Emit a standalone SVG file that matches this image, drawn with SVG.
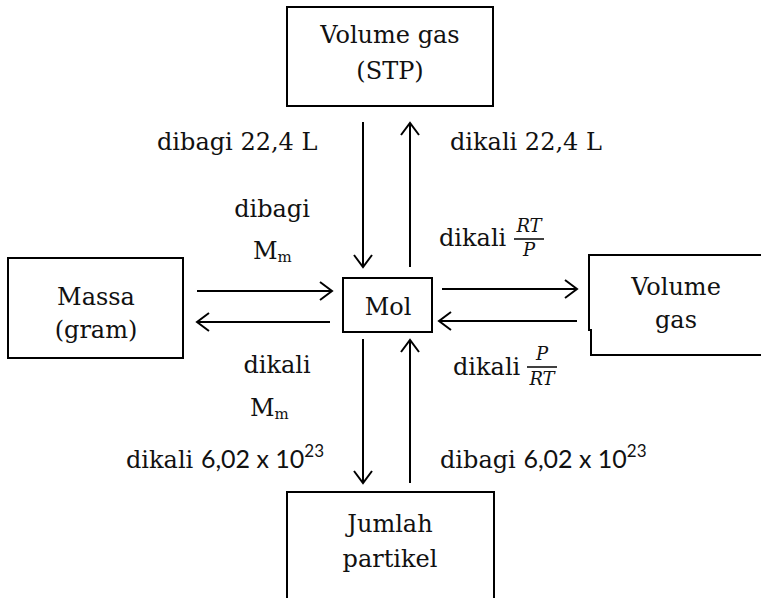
<svg xmlns="http://www.w3.org/2000/svg" width="761" height="598" viewBox="0 0 761 598">
<defs>
<style>
.box{fill:none;stroke:#000;stroke-width:2}
.t{font-family:"DejaVu Serif","Liberation Serif",serif;font-size:24px;fill:#111}
.c{text-anchor:middle}
.s{font-family:Lato,"Liberation Sans",sans-serif;font-size:25px}
.sup{font-family:Lato,"Liberation Sans",sans-serif;font-size:17px}
.sub{font-size:15px}
.f{font-family:"DejaVu Serif","Liberation Serif",serif;font-style:italic;font-size:18px;fill:#111;text-anchor:middle}
.ar{fill:none;stroke:#000;stroke-width:2;marker-end:url(#ah)}
</style>
<marker id="ah" markerUnits="userSpaceOnUse" markerWidth="16" markerHeight="22" refX="13" refY="10" orient="auto" overflow="visible">
<path d="M1,1 L13,10 L1,19" fill="none" stroke="#000" stroke-width="2"/>
</marker>
</defs>
<rect width="761" height="598" fill="#fff"/>

<g id="volume-stp">
<rect class="box" x="287" y="7" width="206" height="99"/>
<text class="t c" x="390" y="43">Volume gas</text>
<text class="t c" x="390" y="79">(STP)</text>
</g>

<g id="massa">
<rect class="box" x="8" y="258" width="175" height="100"/>
<text class="t c" x="96" y="305">Massa</text>
<text class="t c" x="96" y="338">(gram)</text>
</g>

<g id="mol">
<rect class="box" x="343" y="278" width="89" height="54"/>
<text class="t c" x="388" y="315">Mol</text>
</g>

<g id="volume-gas">
<path class="box" d="M763,255 H589 V331 M591,329 V355 H763"/>
<text class="t c" x="676" y="295">Volume</text>
<text class="t c" x="676" y="328">gas</text>
</g>

<g id="jumlah-partikel">
<rect class="box" x="287" y="492" width="207" height="112"/>
<text class="t c" x="390" y="532">Jumlah</text>
<text class="t c" x="390" y="567">partikel</text>
</g>

<g id="connectors">
<line class="ar" x1="363" y1="122" x2="363" y2="267"/>
<line class="ar" x1="410" y1="267" x2="410" y2="123"/>
<line class="ar" x1="363" y1="339" x2="363" y2="483"/>
<line class="ar" x1="410" y1="483" x2="410" y2="340"/>
<line class="ar" x1="197" y1="291" x2="332" y2="291"/>
<line class="ar" x1="330" y1="322" x2="197" y2="322"/>
<line class="ar" x1="442" y1="289" x2="577" y2="289"/>
<line class="ar" x1="577" y1="321" x2="439" y2="321"/>
</g>

<g id="labels">
<text class="t" x="157" y="150">dibagi 22,4 L</text>
<text class="t" x="450" y="150">dikali 22,4 L</text>
<text class="t c" x="272" y="217">dibagi</text>
<text class="t" x="253" y="259">M<tspan class="sub" dy="3">m</tspan></text>
<text class="t" x="439" y="246">dikali</text>
<text class="f" x="529" y="232">RT</text>
<line x1="514" y1="239" x2="544" y2="239" stroke="#000" stroke-width="1.5"/>
<text class="f" x="529" y="256">P</text>
<text class="t c" x="277" y="373">dikali</text>
<text class="t" x="250" y="416">M<tspan class="sub" dy="3">m</tspan></text>
<text class="t" x="453" y="375">dikali</text>
<text class="f" x="542" y="360">P</text>
<line x1="527" y1="367" x2="557" y2="367" stroke="#000" stroke-width="1.5"/>
<text class="f" x="542" y="385">RT</text>
<text class="t" x="126" y="468">dikali <tspan class="s">6,02 x 10</tspan><tspan class="sup" dy="-11">23</tspan></text>
<text class="t" x="440" y="468">dibagi <tspan class="s">6,02 x 10</tspan><tspan class="sup" dy="-11">23</tspan></text>
</g>
</svg>
